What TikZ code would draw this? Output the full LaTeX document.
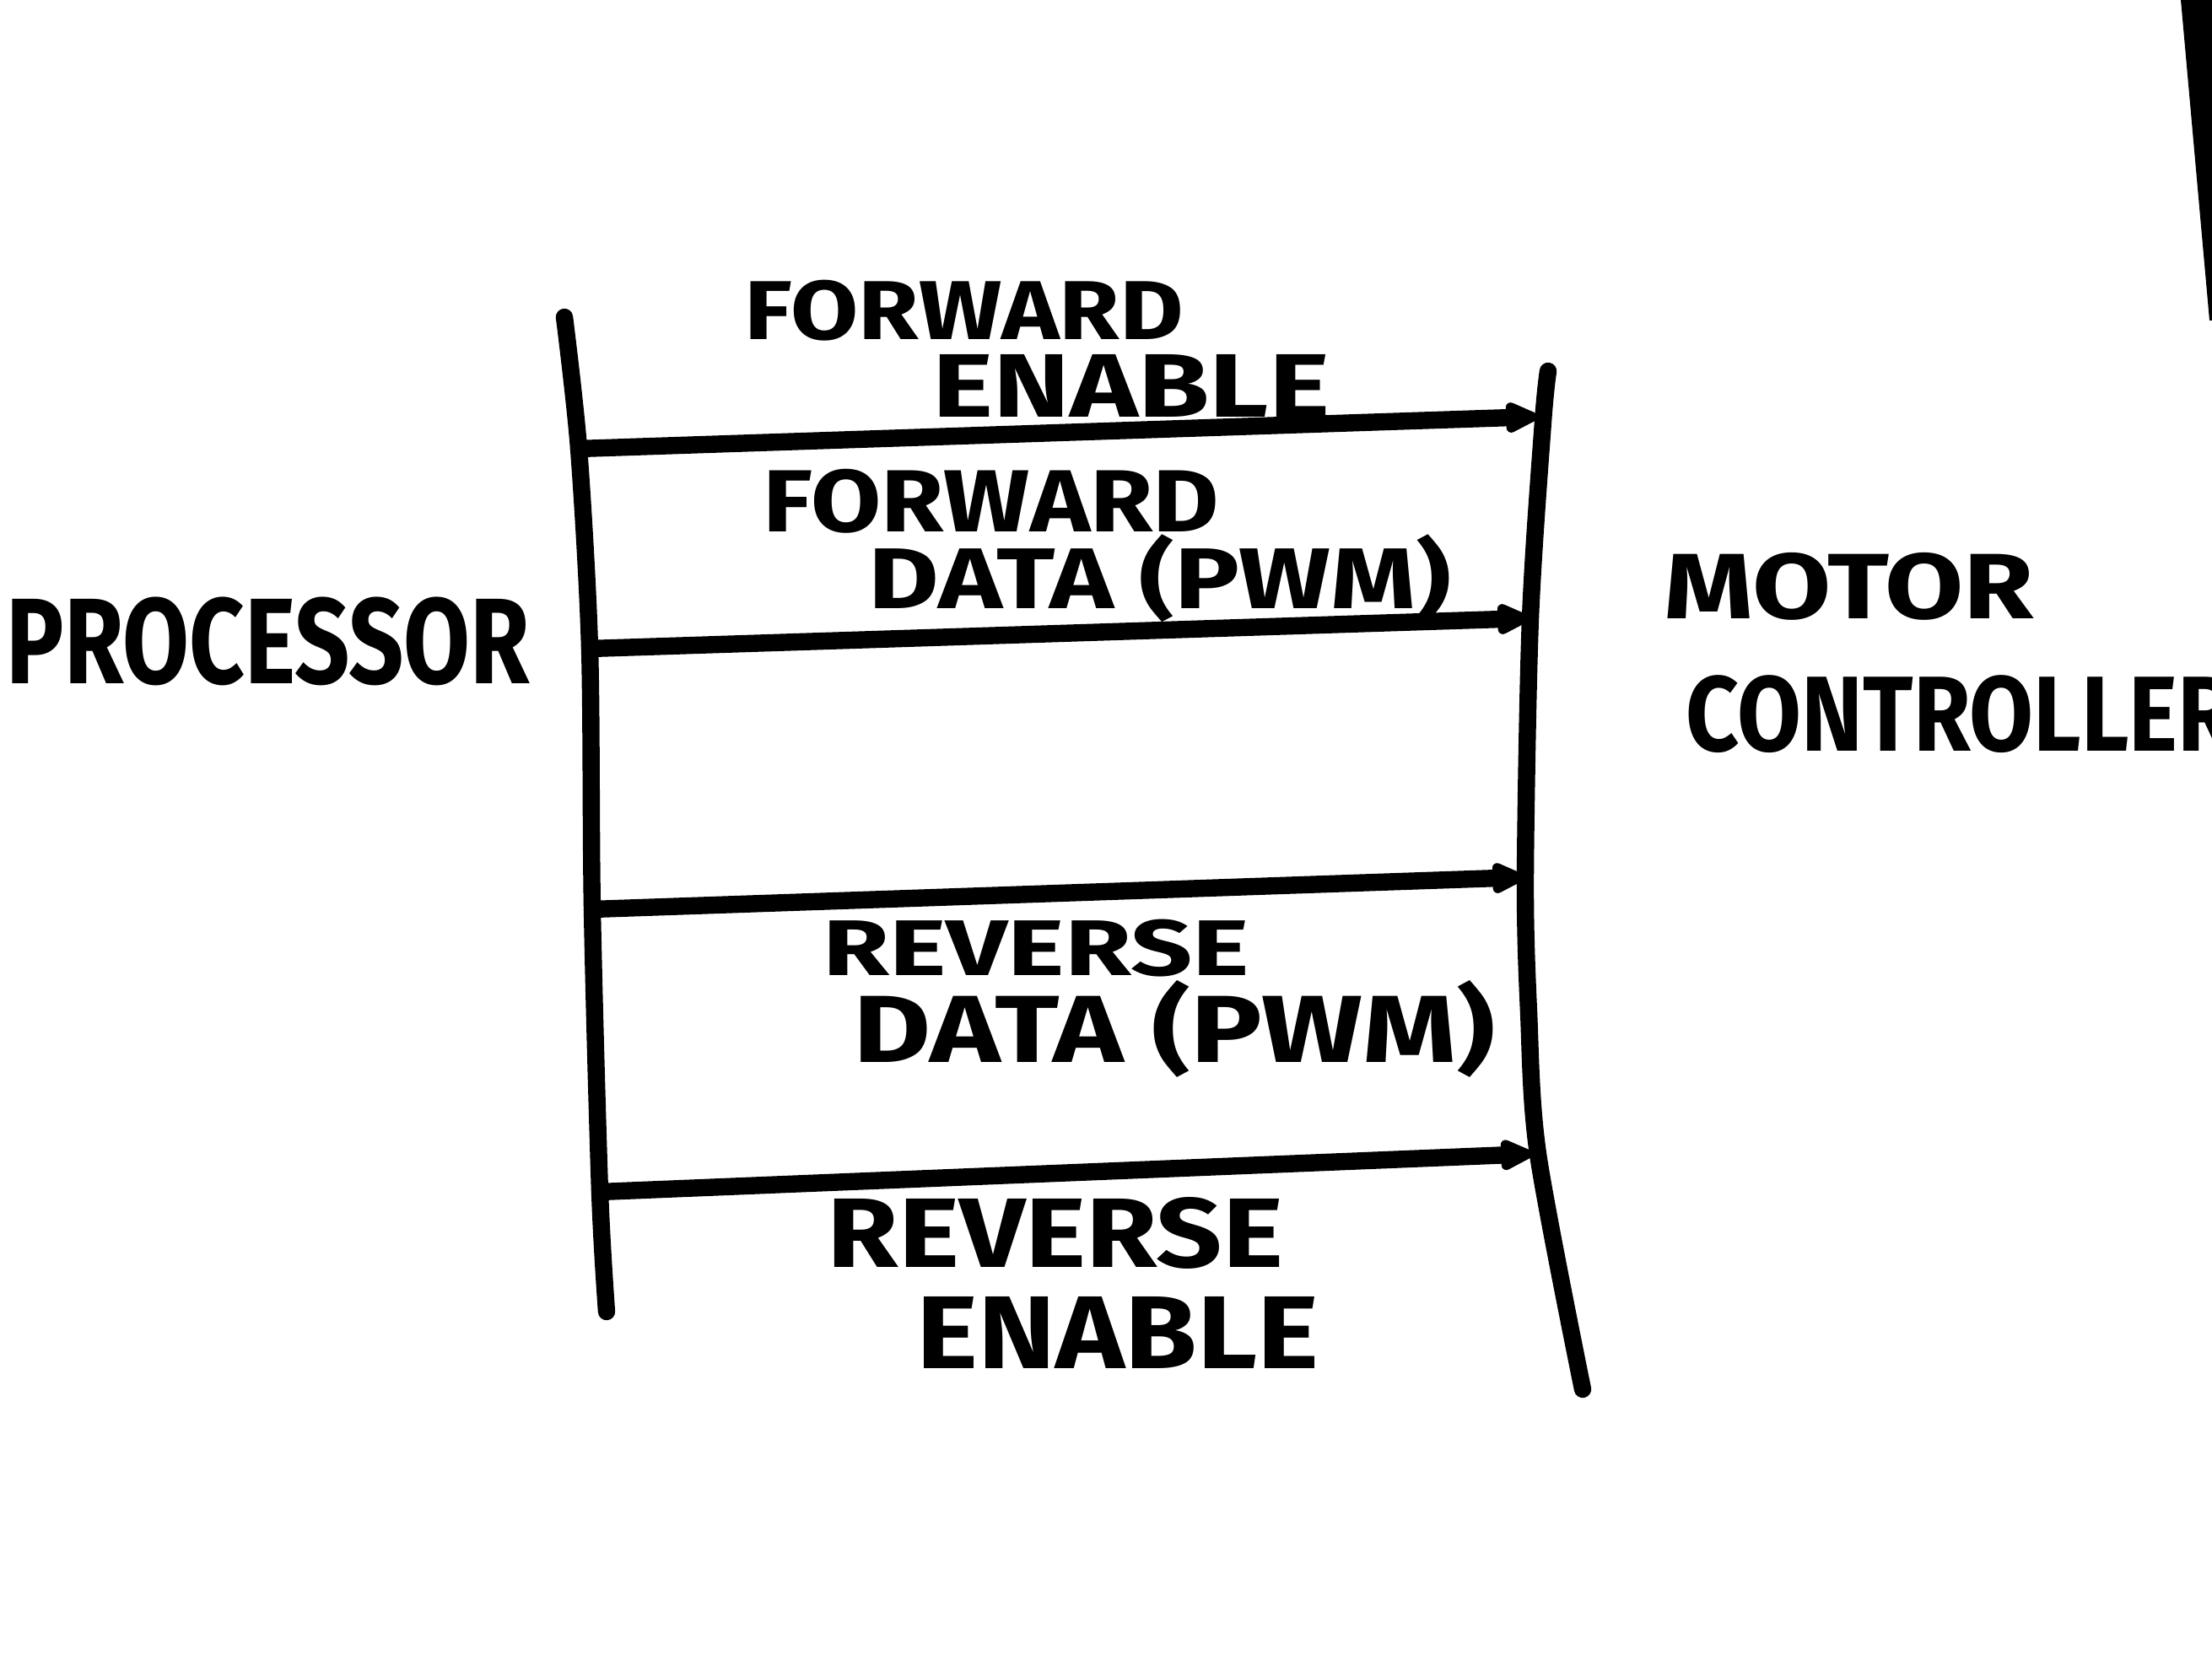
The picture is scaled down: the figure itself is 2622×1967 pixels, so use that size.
\documentclass[tikz,border=0pt]{standalone}
\usepackage{fontspec}
\setmainfont{Fira Sans}
\usetikzlibrary{arrows.meta}
\newcommand{\hw}[3]{\resizebox*{#1}{#2}{\bfseries #3}}
\begin{document}
\begin{tikzpicture}[x=0.01cm,y=-0.01cm,
  bus/.style={line width=5.8pt, line cap=round, line join=round},
  sig/.style={line width=5.8pt, line cap=round, -{Triangle[length=13pt,width=11pt,round]}},
  lbl/.style={inner sep=0pt, text=black}]
\useasboundingbox (0,0) rectangle (2622,1967);
\clip (0,0) rectangle (2622,1967);
\fill[white] (0,0) rectangle (2622,1967);
% bus lines
\draw[bus] plot[smooth] coordinates {(669,376) (686,532) (699,769) (702,1078) (711,1413) (719,1555)};
\draw[bus] plot[smooth, tension=0.5] coordinates {(1835,440) (1829,500) (1814,733) (1808,1040) (1812,1200) (1823,1368) (1876,1647)};
% taps
\coordinate (l1) at (686,532);  \coordinate (r1) at (1822,494);
\coordinate (l2) at (699,769);  \coordinate (r2) at (1812,733);
\coordinate (l3) at (702,1078); \coordinate (r3) at (1806,1040);
\coordinate (l4) at (711,1413); \coordinate (r4) at (1816,1368);
\draw[sig] (l1) -- (r1);
\draw[sig] (l2) -- (r2);
\draw[sig] (l3) -- (r3);
\draw[sig] (l4) -- (r4);
% labels
\node[lbl] (fe1) at (1143,368) {\hw{5.2cm}{0.72cm}{FORWARD}};
\node[lbl] (fe2) at (1341,457) {\hw{4.7cm}{0.74cm}{ENABLE}};
\node[lbl] (fd1) at (1175,594) {\hw{5.4cm}{0.76cm}{FORWARD}};
\node[lbl] (fd2) at (1375,686) {\hw{6.9cm}{1.04cm}{DATA (PWM)}};
\node[lbl] (rd1) at (1228,1124) {\hw{5.05cm}{0.68cm}{REVERSE}};
\node[lbl] (rd2) at (1392,1220) {\hw{7.6cm}{1.15cm}{DATA (PWM)}};
\node[lbl] (re1) at (1251,1462) {\hw{5.4cm}{0.85cm}{REVERSE}};
\node[lbl] (re2) at (1325,1580) {\hw{4.76cm}{0.85cm}{ENABLE}};
\node[lbl] (processor) at (318,760) {\hw{6.2cm}{1.05cm}{PROCESSOR}};
\node[lbl] (motor) at (2192,695) {\hw{4.38cm}{0.8cm}{MOTOR}};
\node[lbl,anchor=west] (controller) at (1998,847) {\hw{6.5cm}{0.92cm}{CONTROLLER}};
% edge of paper
\fill (2585,0) -- (2622,0) -- (2622,380) -- (2619,380) -- cycle;
\end{tikzpicture}
\end{document}
